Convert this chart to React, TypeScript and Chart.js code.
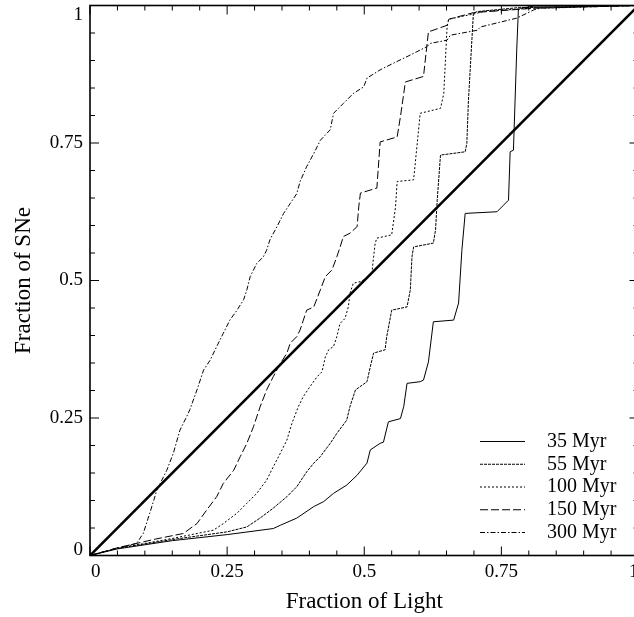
import React, { useEffect, useRef } from "react";
import { Chart, registerables } from "chart.js";

Chart.register(...registerables);

// ---------- data ----------
const xTickValues = [0, 0.25, 0.5, 0.75, 1];
const xTickLabels = ["0", "0.25", "0.5", "0.75", "1"];
const yTickValues = [0, 0.25, 0.5, 0.75, 1];
const yTickLabels = ["0", "0.25", "0.5", "0.75", "1"];
const minorStep = 0.05;

const seriesLabels = ["35 Myr", "55 Myr", "100 Myr", "150 Myr", "300 Myr"];

const myr35X = [0, 0.05, 0.15, 0.25, 0.334, 0.347, 0.377, 0.408, 0.426, 0.444, 0.468, 0.487, 0.505, 0.511, 0.529, 0.535, 0.544, 0.566, 0.572, 0.578, 0.602, 0.608, 0.617, 0.626, 0.663, 0.672, 0.678, 0.684, 0.742, 0.754, 0.763, 0.766, 0.772, 0.775, 0.778, 0.781, 0.785, 0.81, 1];
const myr35Y = [0, 0.012, 0.027, 0.038, 0.049, 0.055, 0.068, 0.089, 0.098, 0.113, 0.128, 0.146, 0.168, 0.192, 0.204, 0.206, 0.243, 0.249, 0.271, 0.313, 0.316, 0.319, 0.352, 0.425, 0.428, 0.459, 0.555, 0.622, 0.625, 0.637, 0.646, 0.734, 0.737, 0.828, 0.919, 0.992, 0.995, 0.999, 1];

const myr55X = [0, 0.05, 0.15, 0.25, 0.286, 0.31, 0.334, 0.359, 0.377, 0.395, 0.408, 0.42, 0.438, 0.45, 0.468, 0.474, 0.484, 0.505, 0.511, 0.517, 0.538, 0.541, 0.55, 0.578, 0.584, 0.587, 0.59, 0.626, 0.63, 0.633, 0.639, 0.684, 0.687, 0.69, 0.699, 0.706, 0.78, 1];
const myr55Y = [0, 0.013, 0.029, 0.043, 0.052, 0.068, 0.086, 0.107, 0.125, 0.152, 0.168, 0.18, 0.204, 0.222, 0.246, 0.271, 0.301, 0.316, 0.343, 0.368, 0.374, 0.398, 0.446, 0.452, 0.483, 0.543, 0.561, 0.568, 0.592, 0.646, 0.728, 0.734, 0.749, 0.828, 0.986, 0.989, 0.996, 1];

const myr100X = [0, 0.05, 0.15, 0.225, 0.243, 0.268, 0.286, 0.304, 0.322, 0.334, 0.347, 0.359, 0.368, 0.38, 0.389, 0.401, 0.414, 0.423, 0.429, 0.435, 0.444, 0.45, 0.456, 0.465, 0.471, 0.474, 0.48, 0.493, 0.505, 0.514, 0.517, 0.52, 0.523, 0.55, 0.553, 0.557, 0.56, 0.59, 0.602, 0.639, 0.645, 0.651, 0.654, 0.706, 0.715, 0.83, 1];
const myr100Y = [0, 0.013, 0.031, 0.046, 0.058, 0.077, 0.095, 0.113, 0.137, 0.161, 0.186, 0.21, 0.24, 0.271, 0.289, 0.307, 0.325, 0.334, 0.361, 0.374, 0.38, 0.398, 0.422, 0.431, 0.452, 0.477, 0.495, 0.498, 0.504, 0.513, 0.543, 0.568, 0.577, 0.583, 0.604, 0.634, 0.68, 0.683, 0.804, 0.813, 0.84, 0.961, 0.975, 0.986, 0.989, 0.997, 1];

const myr150X = [0, 0.05, 0.12, 0.17, 0.195, 0.213, 0.231, 0.243, 0.262, 0.274, 0.286, 0.298, 0.31, 0.322, 0.334, 0.347, 0.359, 0.365, 0.377, 0.383, 0.389, 0.395, 0.408, 0.42, 0.429, 0.441, 0.45, 0.456, 0.462, 0.474, 0.487, 0.49, 0.493, 0.523, 0.529, 0.56, 0.566, 0.575, 0.608, 0.614, 0.617, 0.651, 0.654, 0.699, 0.809, 1];
const myr150Y = [0, 0.014, 0.03, 0.04, 0.058, 0.083, 0.107, 0.131, 0.155, 0.18, 0.204, 0.234, 0.27, 0.301, 0.325, 0.349, 0.368, 0.386, 0.398, 0.41, 0.428, 0.446, 0.452, 0.483, 0.507, 0.519, 0.543, 0.561, 0.58, 0.586, 0.598, 0.634, 0.659, 0.668, 0.752, 0.761, 0.798, 0.861, 0.871, 0.925, 0.952, 0.964, 0.975, 0.987, 0.995, 1];

const myr300X = [0, 0.04, 0.085, 0.097, 0.109, 0.122, 0.14, 0.152, 0.164, 0.176, 0.182, 0.195, 0.207, 0.219, 0.231, 0.243, 0.255, 0.268, 0.28, 0.286, 0.292, 0.304, 0.316, 0.322, 0.328, 0.341, 0.353, 0.365, 0.377, 0.383, 0.395, 0.408, 0.42, 0.438, 0.444, 0.462, 0.48, 0.499, 0.505, 0.529, 0.553, 0.578, 0.59, 0.614, 0.62, 0.651, 0.657, 0.706, 0.712, 0.778, 0.809, 0.821, 1];
const myr300Y = [0, 0.011, 0.022, 0.04, 0.077, 0.119, 0.155, 0.186, 0.228, 0.252, 0.265, 0.301, 0.337, 0.355, 0.38, 0.404, 0.428, 0.446, 0.465, 0.483, 0.507, 0.531, 0.543, 0.555, 0.574, 0.598, 0.622, 0.64, 0.658, 0.68, 0.707, 0.731, 0.755, 0.774, 0.804, 0.822, 0.84, 0.852, 0.868, 0.883, 0.895, 0.907, 0.913, 0.925, 0.931, 0.937, 0.946, 0.955, 0.961, 0.977, 0.992, 0.995, 1];

const diagX = [0, 1];
const diagY = [0, 1];

// ---------- helpers ----------
const FONT = '"Liberation Serif", "Times New Roman", serif';
const toPts = (xs: number[], ys: number[]) => xs.map((x, i) => ({ x, y: ys[i] }));

const seriesX = [myr35X, myr55X, myr100X, myr150X, myr300X];
const seriesY = [myr35Y, myr55Y, myr100Y, myr150Y, myr300Y];
const seriesDash: number[][] = [[], [3, 1], [2, 2], [8, 3], [5, 2, 1.5, 2]];

const framePlugin = {
  id: "frameTicksLegend",
  afterDraw(chart: any) {
    const { ctx, chartArea: a, scales } = chart;
    const xs = scales.x;
    const ys = scales.y;
    ctx.save();
    ctx.strokeStyle = "#000";
    ctx.lineWidth = 1;
    const n = Math.round(1 / minorStep);
    for (let i = 0; i <= n; i++) {
      const v = i * minorStep;
      const major = i % 5 === 0;
      const len = major ? 9 : 5;
      const px = xs.getPixelForValue(v);
      ctx.beginPath();
      ctx.moveTo(px, a.bottom);
      ctx.lineTo(px, a.bottom - len);
      ctx.moveTo(px, a.top);
      ctx.lineTo(px, a.top + len);
      ctx.stroke();
      const py = ys.getPixelForValue(v);
      ctx.beginPath();
      ctx.moveTo(a.left, py);
      ctx.lineTo(a.left + len, py);
      ctx.moveTo(a.right, py);
      ctx.lineTo(a.right - len, py);
      ctx.stroke();
    }
    ctx.lineWidth = 1.6;
    ctx.strokeRect(a.left, a.top, a.right - a.left, a.bottom - a.top);

    // tick labels
    ctx.fillStyle = "#000";
    ctx.font = `19px ${FONT}`;
    const nx = xTickValues.length;
    xTickValues.forEach((v, i) => {
      const px = xs.getPixelForValue(v);
      ctx.textBaseline = "top";
      ctx.textAlign = i === 0 ? "left" : i === nx - 1 ? "right" : "center";
      ctx.fillText(xTickLabels[i], i === 0 ? px + 1 : px, a.bottom + 7);
    });
    const ny = yTickValues.length;
    yTickValues.forEach((v, i) => {
      const py = ys.getPixelForValue(v);
      ctx.textAlign = "right";
      let y = py;
      if (i === 0) {
        ctx.textBaseline = "alphabetic";
        y = a.bottom - 0.5;
      } else if (i === ny - 1) {
        ctx.textBaseline = "alphabetic";
        y = a.top + 14.5;
      } else {
        ctx.textBaseline = "middle";
      }
      ctx.fillText(yTickLabels[i], a.left - 7, y);
    });

    // legend
    ctx.font = `20px ${FONT}`;
    ctx.textAlign = "left";
    ctx.textBaseline = "middle";
    seriesLabels.forEach((lab, i) => {
      const y = 441.5 + i * 22.75;
      ctx.save();
      ctx.lineWidth = 1;
      ctx.setLineDash(seriesDash[i]);
      ctx.beginPath();
      ctx.moveTo(480, y);
      ctx.lineTo(525, y);
      ctx.stroke();
      ctx.restore();
      ctx.fillText(lab, 547, y);
    });
    ctx.restore();
  },
};

export default function App() {
  const ref = useRef<HTMLCanvasElement | null>(null);
  useEffect(() => {
    if (!ref.current) return;
    const datasets: any[] = seriesLabels.map((lab, i) => ({
      label: lab,
      data: toPts(seriesX[i], seriesY[i]),
      borderColor: "#000",
      borderWidth: 1,
      borderDash: seriesDash[i],
      pointRadius: 0,
      tension: 0,
      fill: false,
    }));
    datasets.push({
      label: "diagonal",
      data: toPts(diagX, diagY),
      borderColor: "#000",
      borderWidth: 2.6,
      pointRadius: 0,
      tension: 0,
      fill: false,
    });
    const chart = new Chart(ref.current, {
      type: "line",
      data: { datasets },
      options: {
        animation: false,
        responsive: false,
        devicePixelRatio: 1,
        layout: { padding: { top: 5.5, right: 21.5, left: 0, bottom: 0 } },
        plugins: { legend: { display: false }, tooltip: { enabled: false } },
        scales: {
          x: {
            type: "linear",
            min: 0,
            max: 1,
            grid: { display: false, drawTicks: false },
            border: { display: false },
            ticks: { display: false, stepSize: 0.25 },
            title: {
              display: true,
              text: "Fraction of Light",
              color: "#000",
              font: { family: FONT, size: 23 },
              padding: { top: 0, bottom: 1 },
            },
            afterFit: (s: any) => {
              s.height = 61.5;
            },
          },
          y: {
            type: "linear",
            min: 0,
            max: 1,
            grid: { display: false, drawTicks: false },
            border: { display: false },
            ticks: { display: false, stepSize: 0.25 },
            title: {
              display: true,
              text: "Fraction of SNe",
              color: "#000",
              font: { family: FONT, size: 23 },
              padding: { top: 10, bottom: 0 },
            },
            afterFit: (s: any) => {
              s.width = 90;
            },
          },
        },
      } as any,
      plugins: [framePlugin],
    });
    return () => chart.destroy();
  }, []);

  return (
    <div style={{ position: "absolute", left: 0, top: 0, width: 634, height: 617, overflow: "hidden", background: "#fff" }}>
      <canvas ref={ref} width={660} height={617} style={{ width: 660, height: 617, display: "block" }} />
    </div>
  );
}
